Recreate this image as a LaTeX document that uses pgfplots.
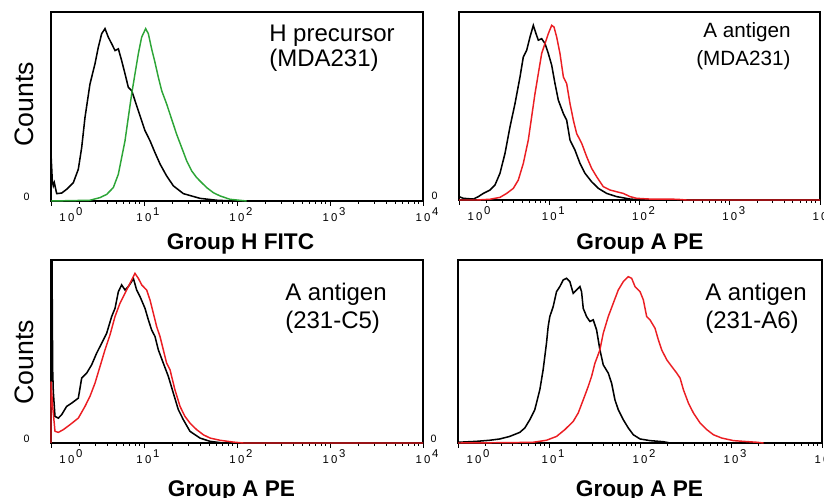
\documentclass[border=0pt]{standalone}
\usepackage{pgfplots}
\pgfplotsset{compat=1.18}
\usepackage{fontspec}
\setmainfont{Liberation Sans}
\definecolor{fgreen}{RGB}{45,165,55}
\definecolor{fred}{RGB}{235,30,35}
\newcommand{\tkl}[1]{\fontsize{8.5}{9}\selectfont 1\kern1.8pt0\rlap{\kern1.2pt\raisebox{4.8pt}{#1}}}
\pgfplotsset{
  every axis/.append style={
  scale only axis, xmin=1, xmax=10000, ymin=0, ymax=100,
  axis line style={line width=0.8pt},
  tick align=outside, xtick pos=bottom, ytick pos=left,
  xtick={10,100,1000,10000},
  xticklabels={\tkl{1},\tkl{2},\tkl{3},\tkl{4}},
  extra x ticks={1}, extra x tick labels={\tkl{0}},
  extra x tick style={xticklabel style={xshift=12pt}},
  minor xtick={2,3,4,5,6,7,8,9,20,30,40,50,60,70,80,90,200,300,400,500,600,700,800,900,2000,3000,4000,5000,6000,7000,8000,9000},
  major tick length=3.5pt, minor tick length=2.2pt,
  every tick/.append style={black, line width=0.6pt},
  ytick={0}, yticklabels={0},
  ytick style={draw=none},
  xticklabel style={inner sep=1pt},
  yticklabel style={font=\fontsize{8}{8}\selectfont, xshift=-9pt, yshift=3pt},
  clip=false,
  }
}
\begin{document}
\begin{tikzpicture}
\useasboundingbox (0,0) rectangle (618pt,372.75pt);
% Panel 1
\begin{semilogxaxis}[at={(38.25pt,222pt)}, anchor=south west, width=279pt, height=141.75pt]
\draw[line width=0.8pt] (rel axis cs:0,0) -- ++(-8.25pt,0);
\addplot[black, line width=1.15pt] coordinates {(1,0) (1,25) (1.033,10.6) (1.059,8.0) (1.086,9.7) (1.151,3.9) (1.303,4.2) (1.473,6.2) (1.738,9.7) (1.967,16.8) (2.138,28.3) (2.32,44.2) (2.625,61.9) (2.972,72.6) (3.228,81.4) (3.506,88.5) (3.808,91.2) (4.13,86.7) (4.49,83.2) (4.88,79.6) (5.30,80.5) (5.75,74.3) (6.25,67.3) (6.78,60.2) (7.37,58.4) (8.00,53.1) (9.06,45.1) (10.25,37.2) (11.6,31.9) (13.1,25.7) (14.9,19.5) (17.5,13.3) (20.7,8.0) (26.5,3.9) (40.0,1.4) (60.4,0.4) (91.4,0)};
\addplot[fgreen, line width=1.1pt] coordinates {(1,0) (2.625,0.4) (3.365,1.8) (3.97,3.5) (4.68,7.1) (5.30,14.2) (5.75,23.0) (6.25,31.9) (6.78,44.2) (7.37,56.6) (8.00,67.3) (8.69,77.9) (9.44,86.7) (10.42,91.2) (11.14,88.5) (12.08,80.5) (13.1,73.5) (14.26,65.5) (15.49,58.4) (17.53,51.3) (19.8,43.4) (22.4,35.4) (25.4,28.3) (28.8,21.2) (32.6,15.9) (36.8,12.4) (41.7,9.7) (47.2,7.1) (55.7,4.4) (65.6,2.7) (84.1,0.9) (127,0)};
\end{semilogxaxis}
% Panel 2
\begin{semilogxaxis}[at={(344.25pt,222.75pt)}, anchor=south west, width=270.75pt, height=141pt]
\draw[line width=0.8pt] (rel axis cs:0,0) -- ++(-8.25pt,0);
\addplot[black, line width=1.15pt] coordinates {(1,1.8) (1.117,0.9) (1.442,0.5) (1.637,1.8) (1.860,3.5) (2.205,5.3) (2.505,8.0) (2.845,14.2) (3.234,24.8) (3.673,38.9) (4.175,51.3) (4.742,65.5) (5.16,76.1) (5.62,79.6) (6.12,86.7) (6.66,92.9) (7.13,88.5) (7.57,85.0) (8.24,85.8) (8.97,83.2) (9.77,77.9) (10.64,71.7) (11.58,61.9) (12.61,53.1) (14.33,46.0) (15.59,42.5) (16.98,31.9) (19.29,26.5) (21.9,19.5) (24.9,14.2) (29.5,9.7) (35.0,6.2) (43.3,3.5) (55.8,1.8) (78.5,0.5) (110,0)};
\addplot[fred, line width=1.1pt] coordinates {(1,0) (1.570,0) (2.205,0.4) (2.845,1.4) (3.373,3.5) (4.0,6.2) (4.54,10.6) (5.16,19.5) (5.86,31.9) (6.38,44.2) (6.95,56.6) (7.57,67.3) (8.24,77.9) (8.97,83.2) (9.77,88.5) (10.64,92.9) (11.29,92.0) (12.08,86.7) (13.15,77.9) (14.33,65.5) (15.59,61.9) (16.98,51.3) (18.49,42.5) (20.1,35.4) (22.9,30.1) (26.0,23.0) (29.5,16.8) (33.5,12.4) (39.7,7.1) (47.1,5.3) (55.8,4.4) (66.2,3.5) (78.5,1.8) (93.0,0.9) (130.7,0.5) (258,0.4) (332,0) (10000,0)};
\end{semilogxaxis}
% Panel 3
\begin{semilogxaxis}[at={(38.25pt,40.5pt)}, anchor=south west, width=279pt, height=137.25pt]
\draw[line width=0.8pt] (rel axis cs:0,0) -- ++(-8.25pt,0);
\addplot[black, line width=1.15pt] coordinates {(1,0) (1,100) (1.025,100) (1.042,40) (1.059,28) (1.104,14.5) (1.199,13.6) (1.303,15.5) (1.473,20.0) (1.668,21.8) (1.967,24.5) (2.138,35.5) (2.42,38.2) (2.735,42.7) (3.097,49.1) (3.506,54.5) (3.97,60.0) (4.49,69.1) (4.88,73.6) (5.30,82.7) (5.75,86.4) (6.25,83.6) (6.78,85.5) (7.37,88.2) (7.68,90.0) (8.34,83.6) (9.06,80.0) (10.25,73.6) (11.14,67.3) (12.08,61.8) (13.13,58.2) (14.26,50.9) (16.14,43.6) (18.27,36.4) (20.66,27.3) (23.4,18.2) (26.5,12.7) (31.2,6.4) (40.0,2.7) (51.3,0.9) (71.3,0)};
\addplot[fred, line width=1.1pt] coordinates {(1,0) (1,33.6) (1.042,20) (1.104,6.4) (1.199,5.8) (1.357,7.3) (1.600,10.0) (1.967,13.6) (2.32,20.0) (2.625,25.5) (2.972,32.7) (3.365,41.8) (3.808,50.9) (4.31,59.1) (4.88,69.1) (5.52,76.4) (6.25,81.8) (7.07,87.3) (8.00,92.7) (8.69,90.0) (9.44,86.4) (10.68,83.6) (11.6,78.2) (12.6,70.9) (13.68,63.6) (14.86,58.2) (16.14,50.9) (17.53,43.6) (19.05,40.0) (21.5,29.1) (24.4,20.0) (27.6,14.5) (31.2,10.9) (36.8,7.3) (43.5,4.5) (51.3,2.7) (65.6,1.5) (91.4,0.5) (117,0) (10000,0)};
\end{semilogxaxis}
% Panel 4
\begin{semilogxaxis}[at={(343.5pt,40.5pt)}, anchor=south west, width=273pt, height=137.25pt]
\draw[line width=0.8pt] (rel axis cs:0,0) -- ++(-8.25pt,0);
\addplot[black, line width=1.15pt] coordinates {(1,0.4) (1.592,0.9) (2.23,1.5) (2.874,2.2) (3.70,3.6) (4.77,5.8) (5.42,8.2) (6.15,12.7) (6.98,18.2) (7.93,29.1) (8.62,40.0) (9.38,54.5) (9.79,63.6) (10.21,69.1) (11.11,74.5) (12.10,82.7) (13.16,85.5) (14.32,89.1) (15.58,90.0) (16.95,88.2) (18.45,81.8) (20.08,83.6) (21.85,85.5) (22.79,82.7) (23.78,73.6) (25.87,69.1) (28.16,66.4) (30.63,67.3) (33.34,61.8) (36.27,50.9) (39.47,42.7) (44.79,38.2) (48.74,32.7) (53.04,23.6) (57.71,18.2) (65.55,12.7) (74.42,8.2) (84.50,4.5) (100.1,2.2) (128.8,1.3) (180.6,0.7) (213.8,0)};
\addplot[fred, line width=1.1pt] coordinates {(1,0) (3.70,0.2) (6.69,0.4) (9.38,1.5) (12.10,3.6) (14.93,7.3) (18.45,11.8) (20.95,16.4) (23.78,23.6) (26.98,30.9) (29.37,36.4) (31.97,43.6) (36.27,50.9) (39.47,60.0) (44.79,69.1) (50.85,76.4) (57.71,83.6) (65.55,88.2) (74.42,90.9) (80.97,90.0) (88.10,85.5) (100.1,82.7) (108.9,78.2) (118.4,69.1) (128.8,67.3) (146.2,62.7) (159.1,56.4) (173.2,50.9) (196.6,45.5) (223.2,41.8) (253.4,38.2) (275.6,35.5) (300.0,29.1) (340.6,21.8) (386.6,16.4) (457.8,10.9) (542.0,7.3) (641.7,4.5) (792.5,2.7) (1066,1.3) (1374,0.9) (1924,0.4) (2280,0)};
\end{semilogxaxis}
% Labels
\node[rotate=90, font=\fontsize{20}{20}\selectfont] at (18pt,294.4pt) {Counts};
\node[rotate=90, font=\fontsize{20}{20}\selectfont] at (18pt,100.9pt) {Counts};
\node[anchor=base, font=\fontsize{17}{17}\selectfont\bfseries] at (180.4pt,186pt) {Group H FITC};
\node[anchor=base, font=\fontsize{17}{17}\selectfont\bfseries] at (480pt,186pt) {Group A PE};
\node[anchor=base, font=\fontsize{17}{17}\selectfont\bfseries] at (173.6pt,0.5pt) {Group A PE};
\node[anchor=base, font=\fontsize{17}{17}\selectfont\bfseries] at (479.6pt,0.5pt) {Group A PE};
% Annotations
\node[anchor=base west, inner sep=0pt, font=\fontsize{18}{18}\selectfont] at (201.75pt,341.25pt) {H precursor};
\node[anchor=base west, inner sep=0pt, font=\fontsize{18}{18}\selectfont] at (201.75pt,322.5pt) {(MDA231)};
\node[anchor=base west, inner sep=0pt, font=\fontsize{15.5}{16}\selectfont] at (527.25pt,344.25pt) {A antigen};
\node[anchor=base west, inner sep=0pt, font=\fontsize{15.5}{16}\selectfont] at (522pt,323.25pt) {(MDA231)};
\node[anchor=base west, inner sep=0pt, font=\fontsize{18}{18}\selectfont] at (213.75pt,147.75pt) {A antigen};
\node[anchor=base west, inner sep=0pt, font=\fontsize{18}{18}\selectfont] at (213.75pt,126.75pt) {(231-C5)};
\node[anchor=base west, inner sep=0pt, font=\fontsize{18}{18}\selectfont] at (528.75pt,147.75pt) {A antigen};
\node[anchor=base west, inner sep=0pt, font=\fontsize{18}{18}\selectfont] at (528.75pt,126.75pt) {(231-A6)};
\end{tikzpicture}
\end{document}
